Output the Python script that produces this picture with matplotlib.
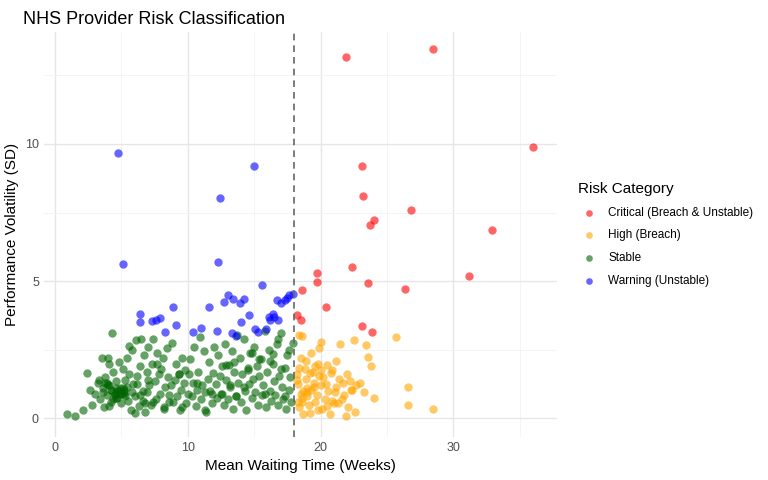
import matplotlib.pyplot as plt

# Critical (Breach & Unstable)
crit_x = [21.9, 28.5, 36.0, 23.1, 23.2, 24.0, 23.7, 26.8, 32.9, 31.2, 22.4, 19.7, 19.7,
          23.6, 26.4, 18.6, 20.4, 18.2, 18.5, 23.1, 23.9]
crit_y = [13.15, 13.45, 9.87, 9.2, 8.1, 7.22, 7.05, 7.6, 6.85, 5.2, 5.5, 5.3, 4.96,
          4.95, 4.72, 4.68, 4.05, 3.78, 3.6, 3.38, 3.15]

# Warning (Unstable)
warn_x = [4.75, 15.0, 12.4, 5.1, 12.3, 15.6, 17.6, 6.4, 6.4, 7.3, 7.6, 7.9, 8.9, 8.3, 9.1,
          11.0, 11.6, 12.7, 13.0, 13.4, 13.9, 14.2, 13.3, 14.6, 15.1, 15.3, 16.1, 16.4,
          16.7, 17.0, 17.3, 16.5, 16.2, 15.9, 16.8, 17.5, 14.0, 10.4, 17.9, 13.6, 12.2]
warn_y = [9.65, 9.18, 8.04, 5.62, 5.7, 4.85, 4.5, 3.8, 3.5, 3.55, 3.6, 3.65, 4.05, 3.15,
          3.4, 3.3, 4.05, 4.25, 4.5, 4.35, 4.2, 4.35, 3.1, 3.75, 3.25, 3.15, 3.7, 3.8,
          4.3, 4.2, 4.3, 3.7, 3.6, 3.25, 3.6, 4.4, 3.5, 3.15, 4.55, 3.0, 3.2]

# High (Breach)
high_x = [25.7, 26.6, 26.6, 28.5, 23.4, 23.6, 23.8, 22.5, 21.5, 21.2, 20.0, 19.9, 18.6,
          18.4, 19.3, 20.9, 22.0, 23.0, 22.7, 22.3, 21.8, 21.0, 20.5, 19.8, 19.2, 18.7,
          18.3, 18.5, 19.0, 19.5, 20.2, 20.8, 21.4, 22.2, 19.6, 18.9, 18.2, 18.8, 19.4,
          20.0, 20.6, 21.1, 21.6, 19.1, 18.4, 18.6, 19.7, 20.3, 20.9, 18.3, 18.9, 19.3,
          19.9, 20.4, 21.2, 22.1, 22.6, 18.5, 19.0, 19.6, 20.1, 20.7, 18.2, 18.7, 19.2,
          19.8, 21.7, 22.4, 23.3, 24.0, 18.4, 19.5, 20.5, 21.3, 19.0, 18.6, 20.0, 21.9]
high_y = [2.95, 1.13, 0.5, 0.33, 2.68, 2.25, 1.9, 2.85, 2.7, 2.1, 2.8, 2.55, 3.0, 3.05,
          2.4, 1.75, 1.6, 1.3, 1.2, 1.05, 0.85, 0.55, 0.45, 0.3, 0.2, 0.15, 0.6, 0.9,
          1.1, 1.3, 1.5, 1.65, 1.45, 1.35, 1.9, 2.1, 1.6, 1.8, 1.7, 1.2, 1.0, 0.95,
          0.7, 0.5, 0.4, 0.75, 0.85, 0.7, 0.65, 1.25, 1.45, 1.05, 1.55, 1.25, 1.15,
          0.4, 0.25, 2.2, 0.95, 0.6, 0.35, 0.15, 1.4, 1.0, 1.65, 2.0, 1.3, 1.05, 0.95,
          0.75, 1.85, 1.15, 1.95, 0.55, 0.8, 0.6, 1.75, 0.1]

# Stable
stab_x = [0.9, 1.5, 2.1, 2.4, 2.8, 3.0, 3.2, 3.4, 3.5, 3.6, 3.7, 3.8, 3.9, 4.0, 4.1,
          4.2, 4.3, 4.4, 4.5, 4.6, 4.7, 4.8, 4.9, 5.0, 5.1, 5.2, 5.3, 5.4, 5.5, 5.6,
          5.7, 5.8, 5.9, 6.0, 6.1, 6.2, 6.3, 6.4, 6.5, 6.6, 6.7, 6.8, 6.9, 7.0, 7.1,
          7.2, 7.3, 7.4, 7.5, 7.6, 7.7, 7.8, 7.9, 8.0, 8.1, 8.2, 8.3, 8.4, 8.5, 8.6,
          8.7, 8.8, 8.9, 9.0, 9.1, 9.2, 9.3, 9.4, 9.5, 9.6, 9.7, 9.8, 9.9, 10.0, 10.1,
          10.2, 10.3, 10.4, 10.5, 10.6, 10.7, 10.8, 10.9, 11.0, 11.1, 11.2, 11.3, 11.4,
          11.5, 11.6, 11.7, 11.8, 11.9, 12.0, 12.1, 12.2, 12.3, 12.4, 12.5, 12.6, 12.7,
          12.8, 12.9, 13.0, 13.1, 13.2, 13.3, 13.4, 13.5, 13.6, 13.7, 13.8, 13.9, 14.0,
          14.1, 14.2, 14.3, 14.4, 14.5, 14.6, 14.7, 14.8, 14.9, 15.0, 15.1, 15.2, 15.3,
          15.4, 15.5, 15.6, 15.7, 15.8, 15.9, 16.0, 16.1, 16.2, 16.3, 16.4, 16.5, 16.6,
          16.7, 16.8, 16.9, 17.0, 17.1, 17.2, 17.3, 17.4, 17.5, 17.6, 17.7, 17.8, 17.9,
          3.6, 3.9, 4.1, 4.3, 4.5, 4.7, 4.9, 5.1, 5.3, 4.0, 4.4, 4.8, 5.2, 3.8, 4.2,
          4.6, 5.0, 5.4, 6.2, 6.6, 7.0, 5.8, 6.4, 7.4, 12.6, 13.2, 13.6, 14.2, 14.8,
          15.4, 12.9, 13.5, 14.5, 15.8, 16.4, 17.0, 17.6, 16.2, 16.8, 17.3, 11.8, 10.7,
          9.3, 8.6, 7.7, 6.9, 5.6, 3.3, 2.6, 4.1, 4.6, 5.2, 6.0, 6.8, 8.2, 9.6, 11.3]
stab_y = [0.15, 0.1, 0.3, 1.65, 0.5, 0.9, 1.3, 0.7, 2.2, 1.1, 0.4, 1.5, 0.85, 2.2, 1.2,
          0.6, 1.0, 1.7, 0.9, 1.35, 0.75, 2.05, 1.1, 0.55, 1.8, 0.95, 1.4, 2.2, 0.65,
          1.6, 0.3, 2.5, 1.25, 0.8, 2.85, 1.55, 0.45, 1.9, 2.9, 1.0, 2.3, 0.25, 1.7, 2.6,
          1.2, 0.5, 2.0, 2.9, 1.35, 0.7, 2.4, 1.6, 0.9, 1.8, 2.2, 0.4, 1.15, 2.55, 1.5,
          0.85, 1.2, 2.75, 0.6, 1.4, 2.0, 0.8, 1.6, 0.3, 1.05, 2.2, 1.3, 1.75, 0.55,
          0.9, 1.6, 2.15, 0.8, 1.3, 2.6, 0.45, 1.05, 1.7, 2.95, 0.7, 1.2, 2.45, 0.95,
          0.25, 1.45, 2.05, 1.0, 0.55, 1.65, 2.6, 1.25, 0.75, 2.3, 1.55, 0.9, 1.9, 0.5,
          2.7, 1.4, 0.7, 1.95, 1.15, 2.45, 0.35, 1.7, 0.8, 3.05, 1.3, 2.2, 0.6, 1.6,
          2.9, 1.0, 0.3, 1.85, 1.25, 2.4, 0.75, 1.45, 2.6, 0.95, 1.9, 0.5, 1.55, 2.15,
          0.85, 1.2, 3.2, 0.4, 1.7, 2.5, 1.0, 0.65, 2.0, 1.35, 0.85, 2.7, 0.5, 1.55,
          3.1, 1.15, 0.7, 1.85, 0.35, 2.3, 1.05, 1.5, 0.6, 2.75, 0.95, 1.3, 0.45, 3.1,
          0.85, 1.0, 0.9, 1.1, 0.8, 1.2, 0.7, 1.0, 0.9, 1.3, 1.05, 0.75, 0.9, 1.15,
          1.25, 0.65, 1.4, 0.95, 0.85, 0.6, 0.9, 1.2, 0.8, 1.15, 2.4, 2.15, 1.95, 2.05,
          1.75, 0.9, 2.35, 1.8, 2.5, 2.1, 2.9, 0.8, 0.9, 1.3, 1.6, 0.6, 2.0, 0.95,
          2.65, 1.4, 1.05, 2.0, 1.1, 1.05, 0.2, 0.55, 0.35, 0.4, 0.3, 0.45, 0.5, 0.35,
          0.55, 1.0, 0.7, 1.2]

plt.rcParams['font.family'] = ['Liberation Sans', 'DejaVu Sans']
fig = plt.figure(figsize=(7.68, 4.8), dpi=100)
ax = fig.add_axes([0.057, 0.09, 0.668, 0.843])

groups = [
    (crit_x, crit_y, "red", "Critical (Breach & Unstable)"),
    (high_x, high_y, "orange", "High (Breach)"),
    (stab_x, stab_y, "darkgreen", "Stable"),
    (warn_x, warn_y, "blue", "Warning (Unstable)"),
]
for gx, gy, col, lab in groups:
    n = min(len(gx), len(gy))
    ax.scatter(gx[:n], gy[:n], s=36, color=col, alpha=0.6, linewidths=0, label=lab, zorder=3)

ax.axvline(18, color="#666666", linestyle=(0, (4, 3)), linewidth=1.2, zorder=4)

ax.set_xlim(-0.85, 37.8)
ax.set_ylim(-0.67, 14.07)
ax.set_xticks([0, 10, 20, 30])
ax.set_yticks([0, 5, 10])
ax.set_xticks([5, 15, 25, 35], minor=True)
ax.set_yticks([2.5, 7.5, 12.5], minor=True)
ax.grid(True, which="major", color="#e6e6e6", linewidth=1.0, zorder=0)
ax.grid(True, which="minor", color="#f2f2f2", linewidth=0.6, zorder=0)
for s in ax.spines.values():
    s.set_visible(False)
ax.tick_params(which="both", length=0, labelsize=9, labelcolor="#4d4d4d")

ax.set_xlabel("Mean Waiting Time (Weeks)", fontsize=11)
ax.set_ylabel("Performance Volatility (SD)", fontsize=11)
ax.set_title("NHS Provider Risk Classification", loc="left", fontsize=13, x=-0.04)

leg = ax.legend(title="Risk Category", loc="center left", bbox_to_anchor=(1.02, 0.5),
                frameon=False, fontsize=8.5, title_fontsize=11, markerscale=0.8,
                handletextpad=0.6, labelspacing=0.9)
leg._legend_box.align = "left"

fig.savefig("out.png", dpi=100)
